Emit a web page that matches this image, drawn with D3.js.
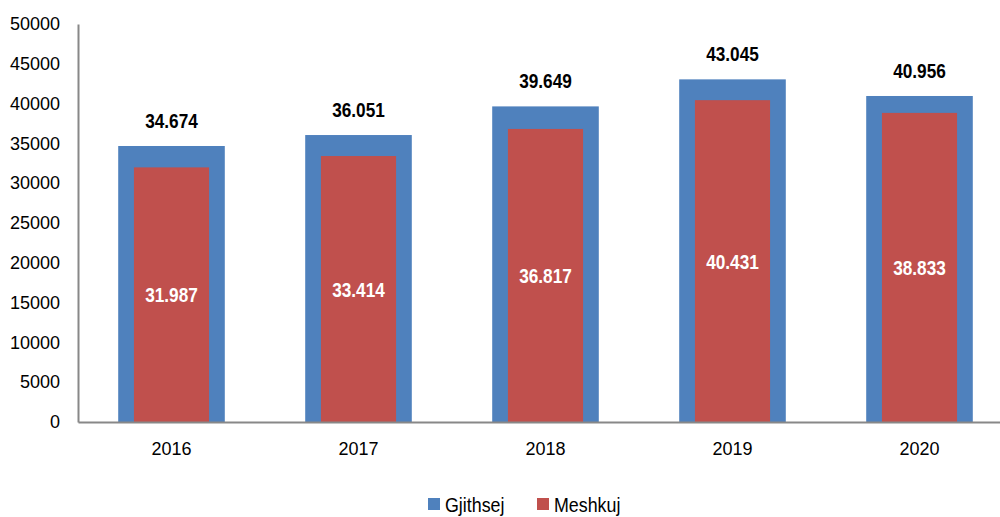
<!DOCTYPE html>
<html>
<head>
<meta charset="utf-8">
<script src="https://cdn.jsdelivr.net/npm/d3@7"></script>
<style>
  body { margin: 0; background: #fff; }
  #chart { width: 1000px; height: 517px; }
  text { font-family: "Liberation Sans", Arial, sans-serif; }
  .val { font-weight: bold; }
</style>
</head>
<body>
<div id="chart"></div>
<script>
// data
const years = ['2016', '2017', '2018', '2019', '2020'];
const gjithsej = [34674, 36051, 39649, 43045, 40956];
const meshkuj = [31987, 33414, 36817, 40431, 38833];
const yTicks = [0, 5000, 10000, 15000, 20000, 25000, 30000, 35000, 40000, 45000, 50000];

const blue = '#4F81BD', red = '#C0504D';

const margin = {top: 24, right: -13, bottom: 95, left: 78};
const W = 1000, H = 517;
const width = W - margin.left - margin.right;
const height = H - margin.top - margin.bottom;

// the original uses a narrow font, squeeze normal text horizontally
const narrow = 0.82;

const svg = d3.select('#chart').append('svg')
    .attr('width', W)
    .attr('height', H);

const g = svg.append('g')
    .attr('transform', `translate(${margin.left},${margin.top})`);

const x = d3.scaleBand()
    .domain(years)
    .range([0, width])
    .paddingInner(0.43)
    .paddingOuter(0.215);

const y = d3.scaleLinear()
    .domain([0, 50000])
    .range([height, 0]);

// y axis
const yAxis = g.append('g')
    .call(d3.axisLeft(y).tickValues(yTicks).tickSize(0).tickPadding(18).tickFormat(d3.format('d')));
yAxis.select('.domain').attr('stroke', '#888').attr('stroke-width', 2);
yAxis.selectAll('text').attr('font-size', 18).attr('fill', '#000')
    .style('font-family', '"Liberation Sans", Arial, sans-serif');

// bars - total (blue) wide, men (red) narrow inside
const inner = x.bandwidth() * 0.705;

g.selectAll('.bar-total')
    .data(years)
    .enter().append('rect')
    .attr('class', 'bar-total')
    .attr('x', d => x(d))
    .attr('y', (d, i) => y(gjithsej[i]))
    .attr('width', x.bandwidth())
    .attr('height', (d, i) => height - y(gjithsej[i]))
    .attr('fill', blue);

g.selectAll('.bar-men')
    .data(years)
    .enter().append('rect')
    .attr('class', 'bar-men')
    .attr('x', d => x(d) + (x.bandwidth() - inner) / 2)
    .attr('y', (d, i) => y(meshkuj[i]))
    .attr('width', inner)
    .attr('height', (d, i) => height - y(meshkuj[i]))
    .attr('fill', red);

// x axis drawn after bars so it sits on top
const xAxis = g.append('g')
    .attr('transform', `translate(0,${height})`)
    .call(d3.axisBottom(x).tickSize(0).tickPadding(20).tickSizeOuter(0));
xAxis.select('.domain').attr('stroke', '#888').attr('stroke-width', 2);
xAxis.selectAll('text').attr('font-size', 18).attr('fill', '#000')
    .style('font-family', '"Liberation Sans", Arial, sans-serif');

const fmt = v => d3.format(',')(v).replace(',', '.');

// labels
g.selectAll('.lbl-total')
    .data(years)
    .enter().append('text')
    .attr('class', 'val')
    .attr('transform', (d, i) => `translate(${x(d) + x.bandwidth() / 2},${y(gjithsej[i]) - 18}) scale(${narrow},1)`)
    .attr('text-anchor', 'middle')
    .attr('font-size', 21)
    .attr('fill', '#000')
    .text((d, i) => fmt(gjithsej[i]));

g.selectAll('.lbl-men')
    .data(years)
    .enter().append('text')
    .attr('class', 'val')
    .attr('transform', (d, i) => `translate(${x(d) + x.bandwidth() / 2},${(y(meshkuj[i]) + height) / 2}) scale(${narrow},1)`)
    .attr('dy', '0.36em')
    .attr('text-anchor', 'middle')
    .attr('font-size', 21)
    .attr('fill', '#fff')
    .text((d, i) => fmt(meshkuj[i]));

// legend
const legendItems = [{name: 'Gjithsej', color: blue}, {name: 'Meshkuj', color: red}];
const legend = svg.append('g').attr('transform', 'translate(428,498)');
const lg = legend.selectAll('g')
    .data(legendItems)
    .enter().append('g')
    .attr('transform', (d, i) => `translate(${i * 109},0)`);
lg.append('rect')
    .attr('width', 12).attr('height', 12)
    .attr('fill', d => d.color);
lg.append('text')
    .attr('transform', 'translate(17,14) scale(0.85,1)')
    .attr('font-size', 21)
    .text(d => d.name);
</script>
</body>
</html>
